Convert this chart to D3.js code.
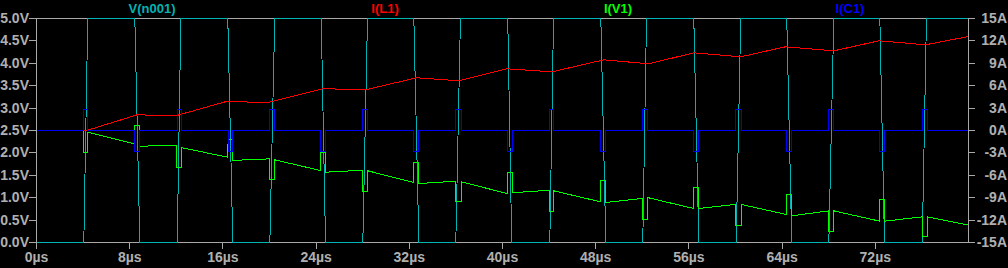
<!DOCTYPE html>
<html>
<head>
<meta charset="utf-8">
<script src="https://cdn.jsdelivr.net/npm/d3@7"></script>
<style>
  html, body { margin: 0; padding: 0; background: #000; }
  svg { display: block; }
  .tick text { font-family: "Liberation Sans", Arial, sans-serif; font-size: 14px; font-weight: bold; fill: #b0b0b0; }
  .tick line { stroke: #a8a8a8; }
  .title { font-family: "Liberation Sans", Arial, sans-serif; font-size: 13px; font-weight: bold; }
</style>
</head>
<body>
<div id="chart"></div>
<script>
// time axis in microseconds
const timeTicks = [0, 8, 16, 24, 32, 40, 48, 56, 64, 72];
const voltTicks = [0, 0.5, 1, 1.5, 2, 2.5, 3, 3.5, 4, 4.5, 5];
const ampTicks = [-15, -12, -9, -6, -3, 0, 3, 6, 9, 12, 15];

const traceNames = ["V(n001)", "I(L1)", "I(V1)", "I(C1)"];

// V(n001) [t, volts]
const vN001 = [
  [0, 0], [4.06, 0], [4.40, 5], [8.44, 5], [8.87, 0], [12.08, 0], [12.39, 5], [16.42, 5], [16.85, 0],
  [20.03, 0], [20.45, 5], [24.44, 5], [24.81, 0], [28.01, 0], [28.41, 5], [32.39, 5], [32.82, 0],
  [35.99, 0], [36.39, 5], [40.45, 5], [40.79, 0], [44.06, 0], [44.38, 5], [48.44, 5], [48.87, 0],
  [52.04, 0], [52.36, 5], [56.42, 5], [56.85, 0], [60.06, 0], [60.45, 5], [64.40, 5], [64.83, 0],
  [68.01, 0], [68.44, 5], [72.39, 5], [72.79, 0], [76.03, 0], [76.39, 5], [80, 5]
];

// I(L1) [t, amps]
const iL1 = [
  [0, 0], [4.3, 0], [8.64, 2.10], [11.95, 1.97], [16.37, 3.92], [19.8, 3.71], [24.6, 5.6],
  [28.24, 5.45], [32.62, 7.06], [36.25, 6.66], [40.4, 8.26], [44.27, 7.86], [48.7, 9.47],
  [52.56, 8.93], [56.42, 10.41], [60.43, 9.87], [64.29, 11.21], [68.44, 10.67], [72.3, 12.01],
  [76.31, 11.48], [80, 12.59]
];

// I(V1) [t, amps]
const iV1 = [
  [0, 0], [4.06, 0], [4.06, -2.9], [4.40, -2.9], [4.40, -0.22], [8.40, -1.78],
  [8.44, 0.67], [8.87, 0.67], [8.87, -2.14], [10.47, -2.0], [12.06, -2.0],
  [12.06, -4.9], [12.45, -4.9], [12.45, -2.3], [16.40, -3.57],
  [16.45, -1.25], [16.85, -1.25], [16.85, -4.0], [20.03, -3.8],
  [20.03, -6.6], [20.43, -6.6], [20.43, -3.92], [24.38, -5.36],
  [24.38, -2.9], [24.81, -2.9], [24.81, -5.58], [27.18, -5.39], [28.0, -5.39],
  [28.0, -8.2], [28.41, -8.2], [28.41, -5.39], [32.39, -6.96],
  [32.39, -4.29], [32.82, -4.29], [32.82, -7.1], [35.96, -6.79],
  [35.96, -9.55], [36.45, -9.55], [36.45, -6.87], [40.4, -8.44],
  [40.4, -5.58], [40.83, -5.58], [40.83, -8.34], [44.0, -8.0],
  [44.0, -10.8], [44.4, -10.8], [44.4, -8.08], [48.41, -9.55],
  [48.41, -6.74], [48.87, -6.74], [48.87, -9.64], [52.0, -9.1],
  [52.0, -11.9], [52.42, -11.9], [52.42, -8.97], [56.42, -10.45],
  [56.42, -7.67], [56.85, -7.67], [56.85, -10.45], [60.0, -9.9],
  [60.0, -12.76], [60.49, -12.76], [60.49, -9.9], [64.38, -11.25],
  [64.38, -8.57], [64.81, -8.57], [64.81, -11.43], [68.01, -10.76],
  [68.01, -13.57], [68.44, -13.57], [68.44, -10.76], [72.39, -12.15],
  [72.39, -9.24], [72.79, -9.24], [72.79, -12.15], [76.03, -11.56],
  [76.03, -14.24], [76.45, -14.24], [76.45, -11.56], [80, -12.68]
];

// I(C1) pulses [start, end, amps]
const iC1Pulses = [
  [4.06, 4.40, 2.8], [8.44, 8.87, -2.8], [12.08, 12.45, 2.8], [16.45, 16.85, -2.8],
  [20.03, 20.43, 2.8], [24.38, 24.81, -2.8], [28.01, 28.41, 2.8], [32.39, 32.82, -2.8],
  [35.99, 36.45, 2.8], [40.4, 40.83, -2.8], [44.0, 44.4, 2.8], [48.41, 48.87, -2.8],
  [52.0, 52.42, 2.8], [56.42, 56.85, -2.8], [60.0, 60.49, 2.8], [64.38, 64.81, -2.8],
  [68.01, 68.44, 2.8], [72.39, 72.79, -2.8], [76.03, 76.45, 2.8]
];

const colors = {vN001: "#00b4b4", iL1: "#ff0000", iV1: "#00ff00", iC1: "#0000ff"};

const size = {width: 1008, height: 268};
const margin = {top: 18, right: 40, bottom: 26, left: 36};
const width = size.width - margin.left - margin.right;
const height = size.height - margin.top - margin.bottom;

const svg = d3.select("#chart").append("svg")
    .attr("width", size.width)
    .attr("height", size.height)
    .style("background", "#000")
;
const g = svg.append("g")
    .attr("transform", "translate(" + margin.left + "," + margin.top + ")")
;

const xScale = d3.scaleLinear().domain([0, 80]).range([0, width]);
const yLeft = d3.scaleLinear().domain([0, 5]).range([height, 0]);
const yRight = d3.scaleLinear().domain([-15, 15]).range([height, 0]);

// frame
g.append("rect")
    .attr("x", 0.5).attr("y", 0.5)
    .attr("width", width).attr("height", height)
    .attr("fill", "none")
    .attr("stroke", "#a8a8a8")
    .attr("shape-rendering", "crispEdges")
;

// build the I(C1) table from its pulses
const iC1 = [[0, 0]];
iC1Pulses.forEach(p => {
    iC1.push([p[0], 0], [p[0], p[2]], [p[1], p[2]], [p[1], 0]);
});
iC1.push([80, 0]);

const lineV = d3.line().x(d => xScale(d[0]) + 0.5).y(d => yLeft(d[1]) + 0.5);
const lineA = d3.line().x(d => xScale(d[0]) + 0.5).y(d => yRight(d[1]) + 0.5);

const traces = [
    {data: vN001, line: lineV, color: colors.vN001},
    {data: iL1, line: lineA, color: colors.iL1},
    {data: iV1, line: lineA, color: colors.iV1},
    {data: iC1, line: lineA, color: colors.iC1}
];

g.selectAll(".trace")
    .data(traces)
    .join("path")
    .attr("class", "trace")
    .attr("d", d => d.line(d.data))
    .attr("fill", "none")
    .attr("stroke", d => d.color)
    .attr("stroke-width", 1)
    .attr("shape-rendering", "crispEdges")
;

// axes
const xAxis = g.append("g")
    .attr("transform", "translate(0," + height + ")")
    .call(d3.axisBottom(xScale).tickValues(timeTicks).tickSize(7).tickPadding(3)
        .tickFormat(d => d + "µs"))
;
const leftAxis = g.append("g")
    .call(d3.axisLeft(yLeft).tickValues(voltTicks).tickSize(7).tickPadding(0)
        .tickFormat(d => d3.format(".1f")(d) + "V"))
;
const rightAxis = g.append("g")
    .attr("transform", "translate(" + width + ",0)")
    .call(d3.axisRight(yRight).tickValues(ampTicks).tickSize(7)
        .tickFormat(d => d + "A"))
;
rightAxis.selectAll("text")
    .attr("text-anchor", "end")
    .attr("x", 39)
;
[xAxis, leftAxis, rightAxis].forEach(a => {
    a.select(".domain").remove();
    a.selectAll("line").attr("shape-rendering", "crispEdges");
});

// trace titles
const titleX = [152, 385, 618, 850];
const titleColors = [colors.vN001, colors.iL1, colors.iV1, colors.iC1];
svg.selectAll(".title")
    .data(traceNames)
    .join("text")
    .attr("class", "title")
    .attr("x", (d, i) => titleX[i])
    .attr("y", 13)
    .attr("text-anchor", "middle")
    .attr("fill", (d, i) => titleColors[i])
    .text(d => d)
;
</script>
</body>
</html>
